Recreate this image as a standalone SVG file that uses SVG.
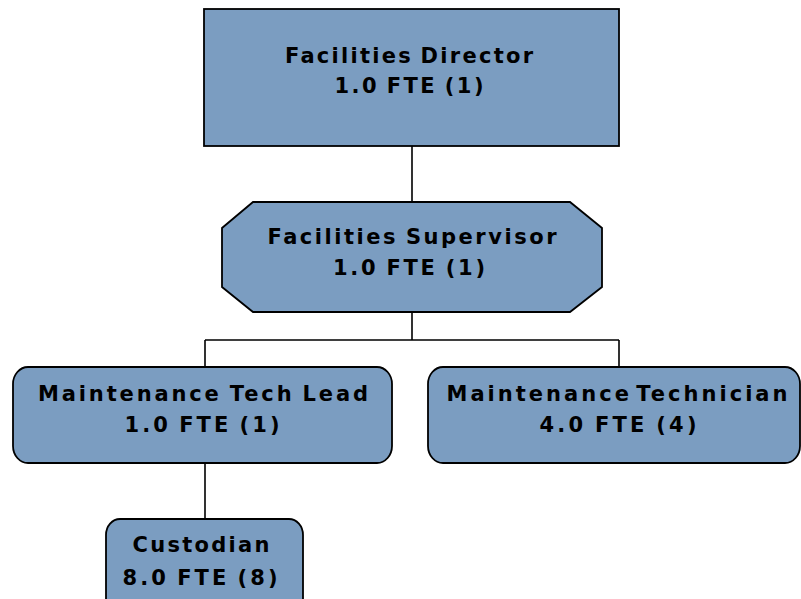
<svg xmlns="http://www.w3.org/2000/svg" width="801" height="599" viewBox="0 0 801 599">
<style>
.box{fill:#7b9dc1;stroke:#000;stroke-width:1.8}
.t{font-family:"DejaVu Sans",Verdana,sans-serif;font-weight:bold;font-size:21px;fill:#000;text-anchor:middle;word-spacing:-2px}
.n{word-spacing:-6px}
.c{fill:none;stroke:#000;stroke-width:1.6}
</style>
<rect width="801" height="599" fill="#fff"/>
<g id="connectors">
<path class="c" d="M412 146V202M412 312V340M205 340H619M205 340V367M619 340V367M205 463V519"/>
</g>
<g id="director">
<rect class="box" x="204" y="9" width="415" height="137"/>
<text class="t" x="409" y="63" textLength="248" lengthAdjust="spacing">Facilities Director</text>
<text class="t" x="409" y="93" textLength="149" lengthAdjust="spacing">1.0 FTE (1)</text>
</g>
<g id="supervisor">
<polygon class="box" points="253,202 570,202 602,228 602,287 570,312 253,312 222,287 222,228"/>
<text class="t" x="412" y="244" textLength="289" lengthAdjust="spacing">Facilities Supervisor</text>
<text class="t" x="409" y="275" textLength="152" lengthAdjust="spacing">1.0 FTE (1)</text>
</g>
<g id="techlead">
<rect class="box" x="13" y="367" width="379" height="96" rx="15" ry="17"/>
<text class="t" x="203" y="401" textLength="330" lengthAdjust="spacing">Maintenance Tech Lead</text>
<text class="t" x="202" y="432" textLength="155" lengthAdjust="spacing">1.0 FTE (1)</text>
</g>
<g id="technician">
<rect class="box" x="428" y="367" width="372" height="96" rx="15" ry="17"/>
<text class="t n" x="617" y="401" textLength="341" lengthAdjust="spacing">Maintenance Technician</text>
<text class="t" x="618" y="432" textLength="157" lengthAdjust="spacing">4.0 FTE (4)</text>
</g>
<g id="custodian">
<rect class="box" x="106" y="519" width="197" height="100" rx="14" ry="16"/>
<text class="t" x="201" y="552" textLength="137" lengthAdjust="spacing">Custodian</text>
<text class="t" x="200" y="585" textLength="155" lengthAdjust="spacing">8.0 FTE (8)</text>
</g>
</svg>
